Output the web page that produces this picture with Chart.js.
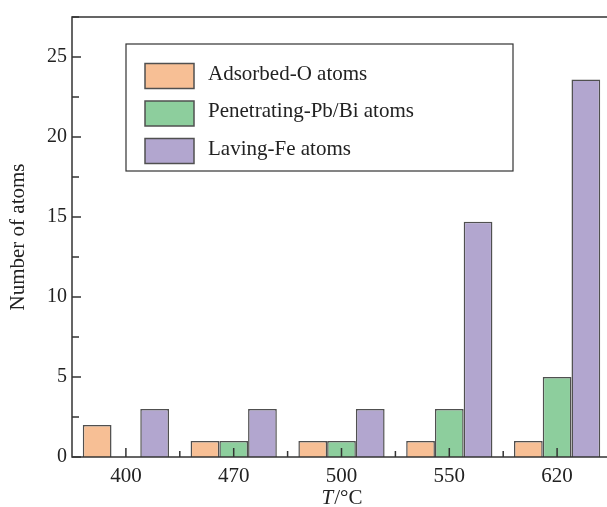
<!DOCTYPE html>
<html>
<head>
<meta charset="utf-8">
<script src="https://cdn.jsdelivr.net/npm/chart.js@4.4.1/dist/chart.umd.min.js"></script>
<style>
    html, body { margin: 0; padding: 0; background: #fff; overflow: hidden; }
    #wrap { width: 615px; height: 507px; }
</style>
</head>
<body>
<div id="wrap"><canvas id="myChart" width="615" height="507"></canvas></div>
<script>
const temperatures = ['400', '470', '500', '550', '620'];
const adsorbedO = [2, 1, 1, 1, 1];
const penetratingPbBi = [0, 1, 1, 3, 5];
const lavingFe = [3, 3, 3, 14.7, 23.6];
const yTicks = [0, 5, 10, 15, 20, 25];

const ink = '#333333';
const serif = "'Liberation Serif', 'DejaVu Serif', serif";

// frame, inward ticks, legend box and the x title with italic T
const decorations = {
    id: 'decorations',
    afterDraw(chart) {
        const c = chart.ctx;
        const a = chart.chartArea;
        const x = chart.scales.x;
        const y = chart.scales.y;
        c.save();
        c.strokeStyle = ink;
        c.lineWidth = 1.5;
        c.strokeRect(a.left, a.top, a.right - a.left, a.bottom - a.top);

        for (let v = 0; v <= y.max; v += 2.5) {
            const py = y.getPixelForValue(v);
            const len = v % 5 === 0 ? 9 : 7;
            c.beginPath();
            c.moveTo(a.left, py);
            c.lineTo(a.left + len, py);
            c.stroke();
        }
        for (let i = 0; i < temperatures.length; i++) {
            let px = x.getPixelForValue(i);
            c.beginPath();
            c.moveTo(px, a.bottom);
            c.lineTo(px, a.bottom - 9);
            c.stroke();
            px = x.getPixelForValue(i + 0.5);
            c.beginPath();
            c.moveTo(px, a.bottom);
            c.lineTo(px, a.bottom - 6);
            c.stroke();
        }

        // legend
        c.fillStyle = '#fff';
        c.fillRect(126, 44, 387, 127);
        c.lineWidth = 1.2;
        c.strokeRect(126, 44, 387, 127);
        c.font = '21px ' + serif;
        c.textBaseline = 'middle';
        chart.data.datasets.forEach((ds, i) => {
            const cy = 76 + i * 37.5;
            c.fillStyle = ds.backgroundColor;
            c.fillRect(145, cy - 12.5, 49, 25);
            c.strokeStyle = ds.borderColor;
            c.lineWidth = 1.5;
            c.strokeRect(145, cy - 12.5, 49, 25);
            c.fillStyle = '#222';
            c.fillText(ds.label, 208, cy - 2);
        });

        // x title
        c.textBaseline = 'alphabetic';
        c.fillStyle = '#222';
        c.font = 'italic 21px ' + serif;
        const tW = c.measureText('T').width;
        c.font = '21px ' + serif;
        const restW = c.measureText('/\u00B0C').width;
        const cx = (a.left + a.right) / 2;
        const start = cx - (tW + restW) / 2;
        c.font = 'italic 21px ' + serif;
        c.fillText('T', start, 504);
        c.font = '21px ' + serif;
        c.fillText('/\u00B0C', start + tW + 1, 504);
        c.restore();
    }
};

const ctx = document.getElementById('myChart');

new Chart(ctx, {
    type: 'bar',
    data: {
        labels: temperatures,
        datasets: [{
            label: 'Adsorbed-O atoms',
            data: adsorbedO,
            backgroundColor: '#F7BF95',
            borderColor: '#505050',
            borderWidth: 1.5
        }, {
            label: 'Penetrating-Pb/Bi atoms',
            data: penetratingPbBi,
            backgroundColor: '#8DCE9D',
            borderColor: '#505050',
            borderWidth: 1.5
        }, {
            label: 'Laving-Fe atoms',
            data: lavingFe,
            backgroundColor: '#B2A6CF',
            borderColor: '#505050',
            borderWidth: 1.5
        }]
    },
    options: {
        responsive: false,
        animation: false,
        devicePixelRatio: 1,
        layout: { padding: { top: 14, right: 4, left: 0, bottom: 0 } },
        datasets: {
            bar: { categoryPercentage: 0.8, barPercentage: 1.0 }
        },
        plugins: {
            legend: { display: false },
            tooltip: { enabled: false }
        },
        scales: {
            x: {
                grid: { display: false, drawTicks: false },
                border: { display: false },
                ticks: {
                    color: '#222',
                    padding: 7,
                    font: { family: serif, size: 21 }
                },
                afterFit(scale) { scale.height = 50; }
            },
            y: {
                min: 0,
                max: 27.5,
                grid: { display: false, drawTicks: false },
                border: { display: false },
                afterBuildTicks(scale) {
                    scale.ticks = yTicks.map(v => ({ value: v }));
                },
                ticks: {
                    color: '#222',
                    padding: 5,
                    font: { family: serif, size: 20 }
                },
                title: {
                    display: true,
                    text: 'Number of atoms',
                    color: '#222',
                    padding: { top: 6, bottom: 0 },
                    font: { family: serif, size: 21 }
                },
                afterFit(scale) { scale.width = 72; }
            }
        }
    },
    plugins: [decorations]
});
</script>
</body>
</html>
